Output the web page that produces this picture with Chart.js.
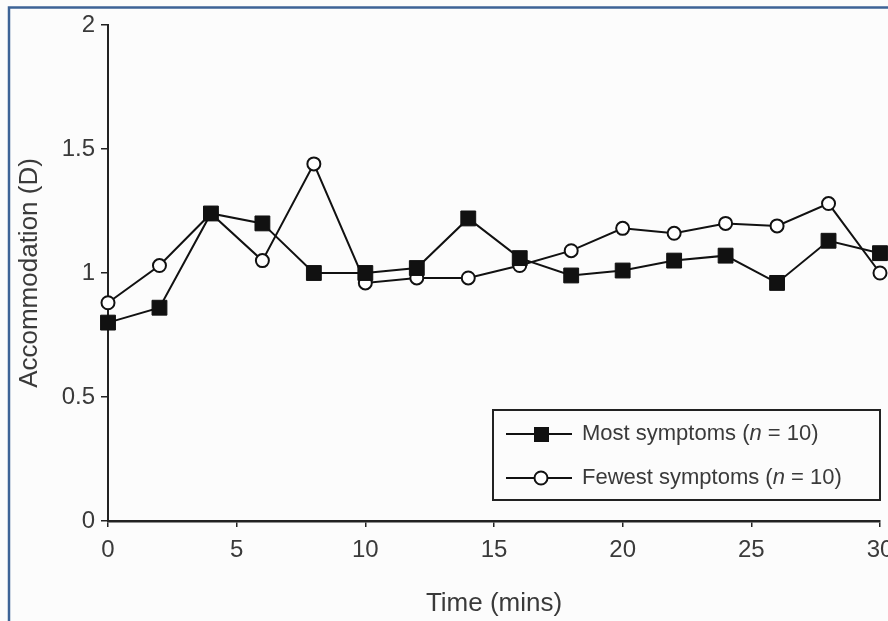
<!DOCTYPE html>
<html>
<head>
<meta charset="utf-8">
<script src="https://cdn.jsdelivr.net/npm/chart.js@4"></script>
<style>
  html, body { margin: 0; padding: 0; background: #fcfcfc; }
  #wrap { width: 888px; height: 621px; position: relative; }
</style>
</head>
<body>
<div id="wrap"><canvas id="accChart" width="888" height="621"></canvas></div>
<script>
// time points (mins)
const times = [0, 2, 4, 6, 8, 10, 12, 14, 16, 18, 20, 22, 24, 26, 28, 30];
// accommodation (D)
const mostSymptoms = [0.80, 0.86, 1.24, 1.20, 1.00, 1.00, 1.02, 1.22, 1.06, 0.99, 1.01, 1.05, 1.07, 0.96, 1.13, 1.08];
const fewestSymptoms = [0.88, 1.03, 1.24, 1.05, 1.44, 0.96, 0.98, 0.98, 1.03, 1.09, 1.18, 1.16, 1.20, 1.19, 1.28, 1.00];
const xTicks = [0, 5, 10, 15, 20, 25, 30];
const yTicks = [0, 0.5, 1, 1.5, 2];

const textColor = '#3a3a3a';
const fontFamily = '"Liberation Sans", Arial, sans-serif';

const toPoints = vals => vals.map((v, i) => ({ x: times[i], y: v }));

// legend box with italic "n", drawn by hand
const customLegend = {
    id: 'customLegend',
    afterDraw(chart) {
        const ctx = chart.ctx;
        ctx.save();
        ctx.strokeStyle = '#222';
        ctx.lineWidth = 2;
        ctx.strokeRect(493, 410, 387, 90);

        const rows = [
            { y: 434, label: 'Most symptoms (', style: 'rect' },
            { y: 478, label: 'Fewest symptoms (', style: 'circle' }
        ];
        rows.forEach(r => {
            ctx.strokeStyle = '#111';
            ctx.lineWidth = 2;
            ctx.beginPath();
            ctx.moveTo(506, r.y);
            ctx.lineTo(572, r.y);
            ctx.stroke();
            if (r.style === 'rect') {
                ctx.fillStyle = '#111';
                ctx.fillRect(534, r.y - 7, 15, 15);
            } else {
                ctx.fillStyle = '#fff';
                ctx.beginPath();
                ctx.arc(541, r.y, 6.5, 0, Math.PI * 2);
                ctx.fill();
                ctx.stroke();
            }
            ctx.fillStyle = textColor;
            ctx.textBaseline = 'middle';
            ctx.textAlign = 'left';
            let x = 582;
            ctx.font = '22px ' + fontFamily;
            ctx.fillText(r.label, x, r.y);
            x += ctx.measureText(r.label).width;
            ctx.font = 'italic 22px ' + fontFamily;
            ctx.fillText('n', x, r.y);
            x += ctx.measureText('n').width;
            ctx.font = '22px ' + fontFamily;
            ctx.fillText(' = 10)', x, r.y);
        });

        // blue frame of the figure
        ctx.strokeStyle = '#3d6396';
        ctx.lineWidth = 2.5;
        ctx.beginPath();
        ctx.moveTo(9, 621);
        ctx.lineTo(9, 7.5);
        ctx.lineTo(888, 7.5);
        ctx.stroke();
        ctx.restore();
    }
};

const ctx = document.getElementById('accChart').getContext('2d');
new Chart(ctx, {
    type: 'line',
    data: {
        datasets: [
            {
                label: 'Most symptoms (n = 10)',
                data: toPoints(mostSymptoms),
                borderColor: '#111',
                borderWidth: 2,
                pointStyle: 'rect',
                pointRadius: 10.5,
                pointBackgroundColor: '#111',
                pointBorderColor: '#111',
                pointBorderWidth: 1,
                tension: 0
            },
            {
                label: 'Fewest symptoms (n = 10)',
                data: toPoints(fewestSymptoms),
                borderColor: '#111',
                borderWidth: 2,
                pointStyle: 'circle',
                pointRadius: 6.5,
                pointBackgroundColor: '#fff',
                pointBorderColor: '#111',
                pointBorderWidth: 2,
                tension: 0
            }
        ]
    },
    options: {
        responsive: false,
        animation: false,
        clip: false,
        layout: { autoPadding: false, padding: { top: 25, right: 8, left: 0, bottom: 0 } },
        plugins: {
            legend: { display: false },
            tooltip: { enabled: false }
        },
        scales: {
            x: {
                type: 'linear',
                min: 0,
                max: 30,
                afterFit: s => { s.height = 100; s.paddingLeft = 0; s.paddingRight = 0; },
                afterBuildTicks: s => { s.ticks = xTicks.map(v => ({ value: v })); },
                border: { display: true, color: '#222', width: 2.5 },
                grid: { display: true, drawOnChartArea: false, tickLength: 6, color: '#222', lineWidth: 1.5 },
                ticks: { color: textColor, font: { family: fontFamily, size: 24 }, padding: 9, maxRotation: 0 },
                title: {
                    display: true,
                    text: 'Time (mins)',
                    color: textColor,
                    font: { family: fontFamily, size: 26 },
                    padding: { top: 0, bottom: 2 }
                }
            },
            y: {
                min: 0,
                max: 2,
                afterFit: s => { s.width = 108; s.paddingTop = 0; s.paddingBottom = 0; },
                afterBuildTicks: s => { s.ticks = yTicks.map(v => ({ value: v })); },
                border: { display: true, color: '#222', width: 2 },
                grid: { display: true, drawOnChartArea: false, tickLength: 7, color: '#222', lineWidth: 1.5 },
                ticks: {
                    color: textColor,
                    font: { family: fontFamily, size: 24 },
                    padding: 6,
                    callback: v => String(v)
                },
                title: {
                    display: true,
                    text: 'Accommodation (D)',
                    color: textColor,
                    font: { family: fontFamily, size: 26 },
                    padding: { top: 14, bottom: 0 }
                }
            }
        }
    },
    plugins: [customLegend]
});
</script>
</body>
</html>
